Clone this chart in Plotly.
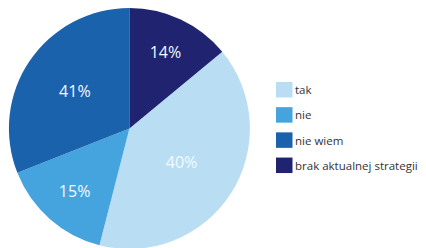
import plotly.graph_objects as go

categories = ["tak", "nie", "nie wiem", "brak aktualnej strategii"]
slice_sizes = [40, 15, 31, 14]                 # share of the circle as drawn
printed_labels = ["40%", "15%", "41%", "14%"]  # percentages printed on slices
colors = ["#b9def4", "#45a3de", "#1b62ad", "#1f2370"]

W, H = 426, 248

fig = go.Figure(go.Pie(
    labels=categories,
    values=slice_sizes,
    text=printed_labels,
    textinfo="text",
    textposition="inside",
    insidetextorientation="horizontal",
    sort=False,
    direction="clockwise",
    rotation=50.4,
    marker=dict(colors=colors, line=dict(width=0)),
    textfont=dict(family="Open Sans", size=16, color="#f4faff"),
    domain=dict(x=[0, 0.57], y=[1 - 241 / H, 1]),
    hoverinfo="label+text",
    showlegend=False,
))

# legend drawn as swatches + text to the right of the pie
sw_x0, sw_size = 268, 16.5
y0, gap = 81.7, 25.2
for i, (cat, col) in enumerate(zip(categories, colors)):
    yc = y0 + i * gap
    fig.add_shape(type="rect", xref="paper", yref="paper",
                  x0=sw_x0 / W, x1=(sw_x0 + sw_size) / W,
                  y0=1 - (yc + sw_size / 2 - 0.5) / H, y1=1 - (yc - sw_size / 2 + 0.5) / H,
                  fillcolor=col, line=dict(width=0))
    fig.add_annotation(x=(sw_x0 + sw_size + 1) / W, y=1 - yc / H,
                       xref="paper", yref="paper", text=cat, showarrow=False,
                       xanchor="left", yanchor="middle", borderpad=0,
                       font=dict(family="Open Sans", size=11.5, color="#333333"))

fig.update_layout(
    width=W, height=H,
    margin=dict(l=0, r=0, t=0, b=0),
    paper_bgcolor="white",
    plot_bgcolor="white",
)

fig.write_html("out.html")
